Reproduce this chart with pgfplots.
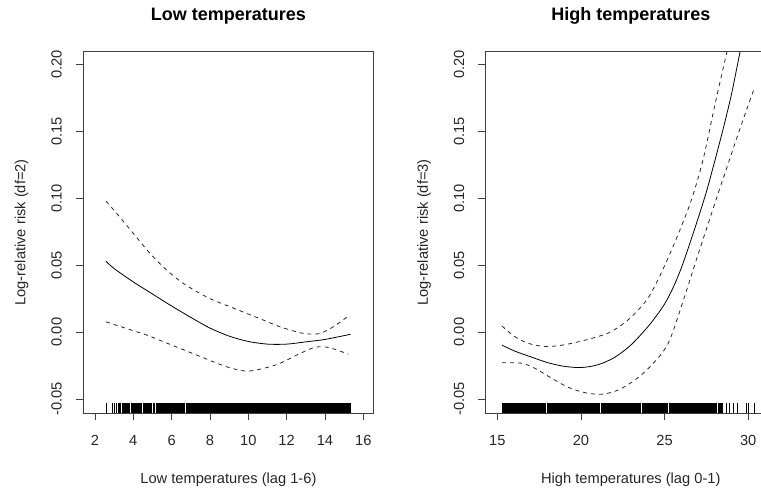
\documentclass[border=0pt]{standalone}
\usepackage{fontspec}
\setmainfont{Liberation Sans}
\usepackage{pgfplots}
\pgfplotsset{compat=1.18}
\pgfplotsset{
  rplot/.style={
    scale only axis, width=217.65pt, height=270.98pt,
    anchor=south west, axis on top,
    axis line style={black!75, line width=0.6pt},
    every tick/.style={black!75, line width=0.6pt},
    tick align=outside, major tick length=5.5pt,
    xtick pos=bottom, ytick pos=left,
    ymin=-0.0605, ymax=0.2097,
    ytick={-0.05,0,0.05,0.1,0.15,0.2},
    yticklabels={-0.05,0.00,0.05,0.10,0.15,0.20},
    tick label style={font=\fontsize{11}{13}\selectfont, text=black!85},
    yticklabel style={xshift=-14.45pt, rotate=90, anchor=center},
    xticklabel style={yshift=-15.3pt, anchor=center},
    every axis title shift=0pt,
    title style={at={(axis description cs:0.5,1.0988)}, anchor=center, font=\fontsize{13.5}{16}\selectfont\bfseries},
    xlabel style={at={(axis description cs:0.5,-0.184)}, anchor=center, font=\fontsize{11}{13}\selectfont, text=black!85},
    ylabel style={at={(axis description cs:-0.2123,0.5)}, anchor=center, font=\fontsize{11}{13}\selectfont, text=black!85},
  },
  est/.style={black, line width=0.6pt, smooth},
  ci/.style={black!85, line width=0.6pt, smooth, dash pattern=on 3pt off 3pt},
  rugt/.style={only marks, mark=|, mark size=3.75pt, mark options={line width=0.6pt}},
}
\begin{document}
\begin{tikzpicture}
\useasboundingbox (0,0) rectangle (570.75pt,366pt);
\clip (0,0) rectangle (570.75pt,366pt);
% ---------------- Left panel ----------------
\begin{axis}[rplot, at={(62.475pt,56.25pt)},
  xmin=1.3895, xmax=16.533,
  xtick={2,4,6,8,10,12,14,16},
  xticklabels={2,4,6,8,10,12,14,16},
  title={Low temperatures},
  xlabel={Low temperatures (lag 1-6)},
  ylabel={Log-relative risk (df=2)}]
\addplot[est] coordinates {(2.57,0.053)(3.0,0.0475)(4.0,0.0375)(5.0,0.0285)(6.0,0.0195)(7.0,0.011)(8.0,0.003)(9.0,-0.003)(10.0,-0.007)(11.0,-0.009)(12.0,-0.009)(13.0,-0.0073)(14.0,-0.0055)(15.34,-0.0016)};
\addplot[ci] coordinates {(2.57,0.098)(3.13,0.0888)(4.0,0.0738)(4.87,0.0589)(5.74,0.0464)(6.61,0.0364)(7.48,0.0289)(8.17,0.0239)(9.04,0.019)(9.91,0.014)(10.78,0.009)(11.65,0.004)(12.52,0.0002)(13.05,-0.0013)(13.74,-0.001)(14.44,0.004)(15.22,0.012)};
\addplot[ci] coordinates {(2.57,0.0077)(3.83,0.0018)(4.70,-0.0022)(5.57,-0.0072)(6.44,-0.0122)(7.31,-0.0172)(8.17,-0.0222)(9.04,-0.0267)(9.91,-0.0292)(10.78,-0.0272)(11.65,-0.0234)(12.52,-0.0172)(13.39,-0.0117)(13.92,-0.011)(14.44,-0.0125)(15.22,-0.0165)};
% rug
\addplot[fill=black, draw=none] coordinates {(3.18,-0.0605)(15.34,-0.0605)(15.34,-0.053)(3.18,-0.053)} -- cycle;
\addplot[rugt, black] coordinates {(2.58,-0.05675)(2.92,-0.05675)(3.01,-0.05675)(3.10,-0.05675)};
\addplot[rugt, white] coordinates {(3.39,-0.05675)(3.85,-0.05675)(4.46,-0.05675)(5.01,-0.05675)(5.17,-0.05675)(6.74,-0.05675)};
\end{axis}
% ---------------- Right panel ----------------
\begin{axis}[rplot, at={(364.275pt,56.25pt)},
  xmin=14.307, xmax=31.653,
  xtick={15,20,25,30},
  xticklabels={15,20,25,30},
  title={High temperatures},
  xlabel={High temperatures (lag 0-1)},
  ylabel={Log-relative risk (df=3)}]
\addplot[est] coordinates {(15.28,-0.0097)(16.0,-0.014)(17.0,-0.0185)(18.0,-0.0228)(19.0,-0.0256)(20.0,-0.0265)(21.0,-0.0245)(22.0,-0.019)(23.0,-0.0095)(24.0,0.004)(24.5,0.012)(25.0,0.021)(25.5,0.033)(26.0,0.048)(26.5,0.066)(27.0,0.085)(27.5,0.105)(28.0,0.128)(28.5,0.152)(29.0,0.178)(29.51,0.2097)};
\addplot[ci] coordinates {(15.28,0.0046)(16.0,-0.003)(16.85,-0.0084)(17.85,-0.0108)(18.85,-0.0098)(19.84,-0.0073)(20.84,-0.004)(21.8,0.0003)(22.9,0.010)(23.93,0.024)(24.6,0.039)(25.3,0.058)(26.0,0.079)(26.62,0.0995)(27.3,0.129)(28.07,0.1736)(28.73,0.2097)};
\addplot[ci] coordinates {(15.28,-0.0229)(16.46,-0.0233)(17.25,-0.0271)(18.25,-0.0345)(19.24,-0.0413)(20.24,-0.0453)(21.24,-0.0465)(22.23,-0.0433)(23.23,-0.0358)(24.23,-0.0246)(25.22,-0.0083)(26.1,0.023)(27.0,0.058)(28.07,0.0987)(29.31,0.145)(30.11,0.1736)(30.36,0.1823)};
% rug
\addplot[fill=black, draw=none] coordinates {(15.28,-0.0605)(28.5,-0.0605)(28.5,-0.053)(15.28,-0.053)} -- cycle;
\addplot[rugt, white] coordinates {(17.95,-0.05675)(21.14,-0.05675)(23.59,-0.05675)(25.24,-0.05675)(28.13,-0.05675)};
\addplot[rugt, black] coordinates {(28.69,-0.05675)(28.86,-0.05675)(29.09,-0.05675)(29.33,-0.05675)(29.86,-0.05675)(29.99,-0.05675)(30.37,-0.05675)};
\end{axis}
\end{tikzpicture}
\end{document}
